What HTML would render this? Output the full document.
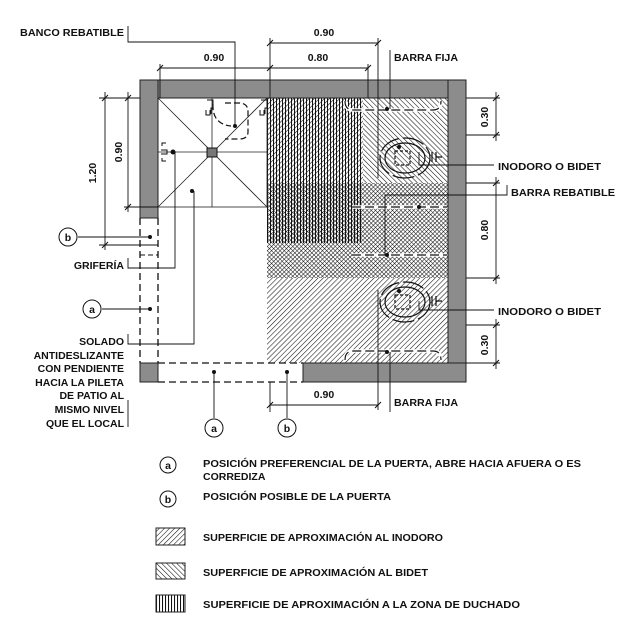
<!DOCTYPE html>
<html><head><meta charset="utf-8"><style>
html,body{margin:0;padding:0;background:#fff;}
svg{display:block;}
text{font-family:"Liberation Sans",sans-serif;font-weight:bold;font-size:10.5px;fill:#111;}
</style></head><body>
<svg width="621" height="633" viewBox="0 0 621 633" xmlns="http://www.w3.org/2000/svg">
<defs>
<pattern id="fs" width="3.6" height="3.6" patternUnits="userSpaceOnUse" patternTransform="rotate(45)"><line x1="0" y1="0" x2="0" y2="4" stroke="#111" stroke-width="1.1"/></pattern>
<pattern id="bs" width="3.6" height="3.6" patternUnits="userSpaceOnUse" patternTransform="rotate(-45)"><line x1="0" y1="0" x2="0" y2="4" stroke="#111" stroke-width="1.1"/></pattern>
<pattern id="vt" width="3" height="4" patternUnits="userSpaceOnUse"><line x1="0.5" y1="0" x2="0.5" y2="4" stroke="#111" stroke-width="1.1"/></pattern>
<pattern id="xh" width="3" height="3" patternUnits="userSpaceOnUse" patternTransform="rotate(45)"><path d="M0 0V3M0 0H3" stroke="#111" stroke-width="1.1"/></pattern>
</defs>
<rect x="267" y="98" width="181" height="265" fill="url(#fs)"/>
<rect x="363" y="98" width="85" height="85" fill="#fff"/>
<rect x="363" y="98" width="85" height="85" fill="url(#bs)"/>
<rect x="267" y="183" width="181" height="95" fill="#fff"/>
<rect x="267" y="183" width="181" height="95" fill="url(#xh)"/>
<rect x="267" y="98" width="96" height="145" fill="url(#vt)"/>
<g fill="#8c8c8c" stroke="#222" stroke-width="1">
<rect x="140" y="80" width="326" height="18"/>
<rect x="140" y="80" width="18" height="138"/>
<rect x="448" y="80" width="18" height="302"/>
<rect x="303" y="363" width="163" height="19"/>
<rect x="140" y="363" width="18" height="19"/>
</g>
<g stroke="#111" stroke-width="1.3" fill="none" stroke-dasharray="7,4">
<line x1="140" y1="218" x2="140" y2="363"/><line x1="158" y1="218" x2="158" y2="363"/>
<line x1="158" y1="363" x2="303" y2="363"/><line x1="158" y1="382" x2="303" y2="382"/>
</g>
<line x1="140" y1="255" x2="158" y2="255" stroke="#111" stroke-dasharray="5,3"/>
<g stroke="#222" stroke-width="0.8" fill="none">
<rect x="158" y="98" width="109" height="109"/>
<line x1="158" y1="98" x2="267" y2="207"/><line x1="267" y1="98" x2="158" y2="207"/>
<line x1="158" y1="152" x2="267" y2="152"/><line x1="212" y1="98" x2="212" y2="207"/>
</g>
<rect x="207" y="148" width="10" height="9" fill="#777" stroke="#111"/>
<path d="M213 104 q-1 20 18 22 M225 103 h14 q9 0 9 9 v20 q0 7-9 7 h-14" stroke="#111" stroke-dasharray="6,3" fill="none" stroke-width="1.2"/>
<path d="M207 100h6v8h-2v6 M261 100h6v8h-2v6 M206 110v5h4v-5 M260 110v5h4v-5" stroke="#111" fill="none"/>
<path d="M162 146v-3h4 M162 158v3h4 M161 150h6v4h-6" stroke="#111" fill="none"/>
<circle cx="173" cy="152" r="2.5" fill="#111"/>
<g stroke="#111" fill="none" stroke-width="1.2">
<ellipse cx="405" cy="158" rx="25" ry="20" stroke-dasharray="22,4"/>
<ellipse cx="405" cy="158" rx="20" ry="15"/>
<rect x="395" y="151" width="15" height="14" stroke-dasharray="3,2"/>
<ellipse cx="405" cy="302" rx="25" ry="20" stroke-dasharray="22,4"/>
<ellipse cx="405" cy="302" rx="20" ry="15"/>
<rect x="395" y="295" width="15" height="14" stroke-dasharray="3,2"/>
<path d="M432 152v10 M436 152v10 M436 157h6 M432 296v10 M436 296v10 M436 301h6"/>
<path d="M345 101 q0 9 8 9 h80 q8 0 8-9" stroke="#fff" stroke-width="3.5"/>
<path d="M345 101 q0 9 8 9 h80 q8 0 8-9" stroke-dasharray="9,4"/>
<path d="M345 360 q0-9 8-9 h80 q8 0 8 9" stroke="#fff" stroke-width="3.5"/>
<path d="M345 360 q0-9 8-9 h80 q8 0 8 9" stroke-dasharray="9,4"/>
<line x1="352" y1="207" x2="447" y2="207" stroke="#fff" stroke-width="3.5"/>
<line x1="352" y1="207" x2="447" y2="207" stroke-dasharray="9,4"/>
<line x1="352" y1="255" x2="447" y2="255" stroke="#fff" stroke-width="3.5"/>
<line x1="352" y1="255" x2="447" y2="255" stroke-dasharray="9,4"/>
</g>
<g fill="#111">
<circle cx="235" cy="126" r="2"/><circle cx="192" cy="191" r="2"/><circle cx="387" cy="109" r="2"/>
<circle cx="399" cy="147" r="2"/><circle cx="399" cy="291" r="2"/><circle cx="419" cy="207" r="2"/>
<circle cx="387" cy="352" r="2"/><circle cx="150" cy="237" r="2"/><circle cx="150" cy="309" r="2"/>
<circle cx="214" cy="372" r="2"/><circle cx="287" cy="372" r="2"/><circle cx="387" cy="255" r="2"/>
</g>
<g stroke="#111" stroke-width="0.9" fill="none">
<path d="M128 26v16h107v84"/>
<line x1="270" y1="43" x2="378" y2="43"/>
<line x1="160" y1="68" x2="368" y2="68"/>
<line x1="160" y1="64" x2="160" y2="98"/><line x1="270" y1="38" x2="270" y2="98"/><line x1="368" y1="64" x2="368" y2="98"/>
<line x1="378" y1="38" x2="378" y2="178"/><line x1="378" y1="290" x2="378" y2="410"/>
<path d="M390 50v59"/><path d="M390 352v60"/>
<path d="M494 165h-75v-13"/><path d="M494 310h-75v-9"/>
<path d="M507 185v10h-122v60"/>
<line x1="466" y1="98" x2="500" y2="98"/><line x1="466" y1="135" x2="500" y2="135"/>
<line x1="466" y1="183" x2="500" y2="183"/><line x1="466" y1="278" x2="500" y2="278"/>
<line x1="466" y1="325" x2="500" y2="325"/><line x1="466" y1="363" x2="500" y2="363"/>
<line x1="496" y1="92" x2="496" y2="141"/><line x1="496" y1="177" x2="496" y2="284"/><line x1="496" y1="319" x2="496" y2="369"/>
<line x1="99" y1="98" x2="140" y2="98"/><line x1="105" y1="92" x2="105" y2="250"/><line x1="99" y1="245" x2="158" y2="245"/>
<line x1="128" y1="92" x2="128" y2="212"/><line x1="124" y1="207" x2="158" y2="207"/>
<line x1="270" y1="382" x2="270" y2="412"/><line x1="270" y1="405" x2="378" y2="405"/>
<line x1="78" y1="237" x2="150" y2="237"/><line x1="102" y1="309" x2="150" y2="309"/>
<path d="M128 258v10h47v-116"/>
<path d="M128 334v10h66v-153"/>
<path d="M128 400v27" />
<line x1="214" y1="372" x2="214" y2="418"/><line x1="287" y1="372" x2="287" y2="418"/>
</g>
<g stroke="#111" stroke-width="1">
<path d="M157 71l6-6M267 46l6-6M267 71l6-6M365 71l6-6M375 46l6-6M267 408l6-6M375 408l6-6M493 101l6-6M493 138l6-6M493 186l6-6M493 281l6-6M493 328l6-6M493 366l6-6M102 101l6-6M102 248l6-6M125 101l6-6M125 210l6-6"/>
</g>
<g stroke="#111" fill="#fff" stroke-width="1"><circle cx="68" cy="237" r="9"/><circle cx="92" cy="309" r="9"/><circle cx="214" cy="428" r="9"/><circle cx="287" cy="428" r="9"/><circle cx="168" cy="465" r="8"/><circle cx="168" cy="499" r="8"/></g>
<g text-anchor="middle"><text x="68" y="241">b</text><text x="92" y="313">a</text><text x="214" y="432">a</text><text x="287" y="432">b</text><text x="168" y="469">a</text><text x="168" y="503">b</text></g>
<text x="20" y="36" textLength="104" lengthAdjust="spacingAndGlyphs">BANCO REBATIBLE</text>
<text x="324" y="36" text-anchor="middle">0.90</text>
<text x="214" y="61" text-anchor="middle">0.90</text>
<text x="318" y="61" text-anchor="middle">0.80</text>
<text x="394" y="61" textLength="64" lengthAdjust="spacingAndGlyphs">BARRA FIJA</text>
<text x="394" y="406" textLength="64" lengthAdjust="spacingAndGlyphs">BARRA FIJA</text>
<text x="324" y="398" text-anchor="middle">0.90</text>
<text x="498" y="170" textLength="103" lengthAdjust="spacingAndGlyphs">INODORO O BIDET</text>
<text x="511" y="196" textLength="104" lengthAdjust="spacingAndGlyphs">BARRA REBATIBLE</text>
<text x="498" y="315" textLength="103" lengthAdjust="spacingAndGlyphs">INODORO O BIDET</text>
<text transform="translate(488,117) rotate(-90)" text-anchor="middle">0.30</text>
<text transform="translate(488,230) rotate(-90)" text-anchor="middle">0.80</text>
<text transform="translate(488,345) rotate(-90)" text-anchor="middle">0.30</text>
<text transform="translate(96,173) rotate(-90)" text-anchor="middle">1.20</text>
<text transform="translate(122,152) rotate(-90)" text-anchor="middle">0.90</text>
<g text-anchor="end">
<text x="124" y="269">GRIFERÍA</text>
<text x="124" y="345">SOLADO</text>
<text x="124" y="359">ANTIDESLIZANTE</text>
<text x="124" y="372">CON PENDIENTE</text>
<text x="124" y="386">HACIA LA PILETA</text>
<text x="124" y="399">DE PATIO AL</text>
<text x="124" y="413">MISMO NIVEL</text>
<text x="124" y="427">QUE EL LOCAL</text>
</g>
<text x="203" y="467" textLength="378" lengthAdjust="spacingAndGlyphs">POSICIÓN PREFERENCIAL DE LA PUERTA, ABRE HACIA AFUERA O ES</text>
<text x="203" y="480">CORREDIZA</text>
<text x="203" y="500" textLength="188" lengthAdjust="spacingAndGlyphs">POSICIÓN POSIBLE DE LA PUERTA</text>
<rect x="156" y="528" width="29" height="17" fill="url(#fs)" stroke="#222"/>
<rect x="156" y="563" width="29" height="16" fill="url(#bs)" stroke="#222"/>
<rect x="156" y="595" width="29" height="17" fill="url(#vt)" stroke="#222"/>
<text x="203" y="541" textLength="240" lengthAdjust="spacingAndGlyphs">SUPERFICIE DE APROXIMACIÓN AL INODORO</text>
<text x="203" y="576" textLength="225" lengthAdjust="spacingAndGlyphs">SUPERFICIE DE APROXIMACIÓN AL BIDET</text>
<text x="203" y="608" textLength="317" lengthAdjust="spacingAndGlyphs">SUPERFICIE DE APROXIMACIÓN A LA ZONA DE DUCHADO</text>
</svg>
</body></html>
